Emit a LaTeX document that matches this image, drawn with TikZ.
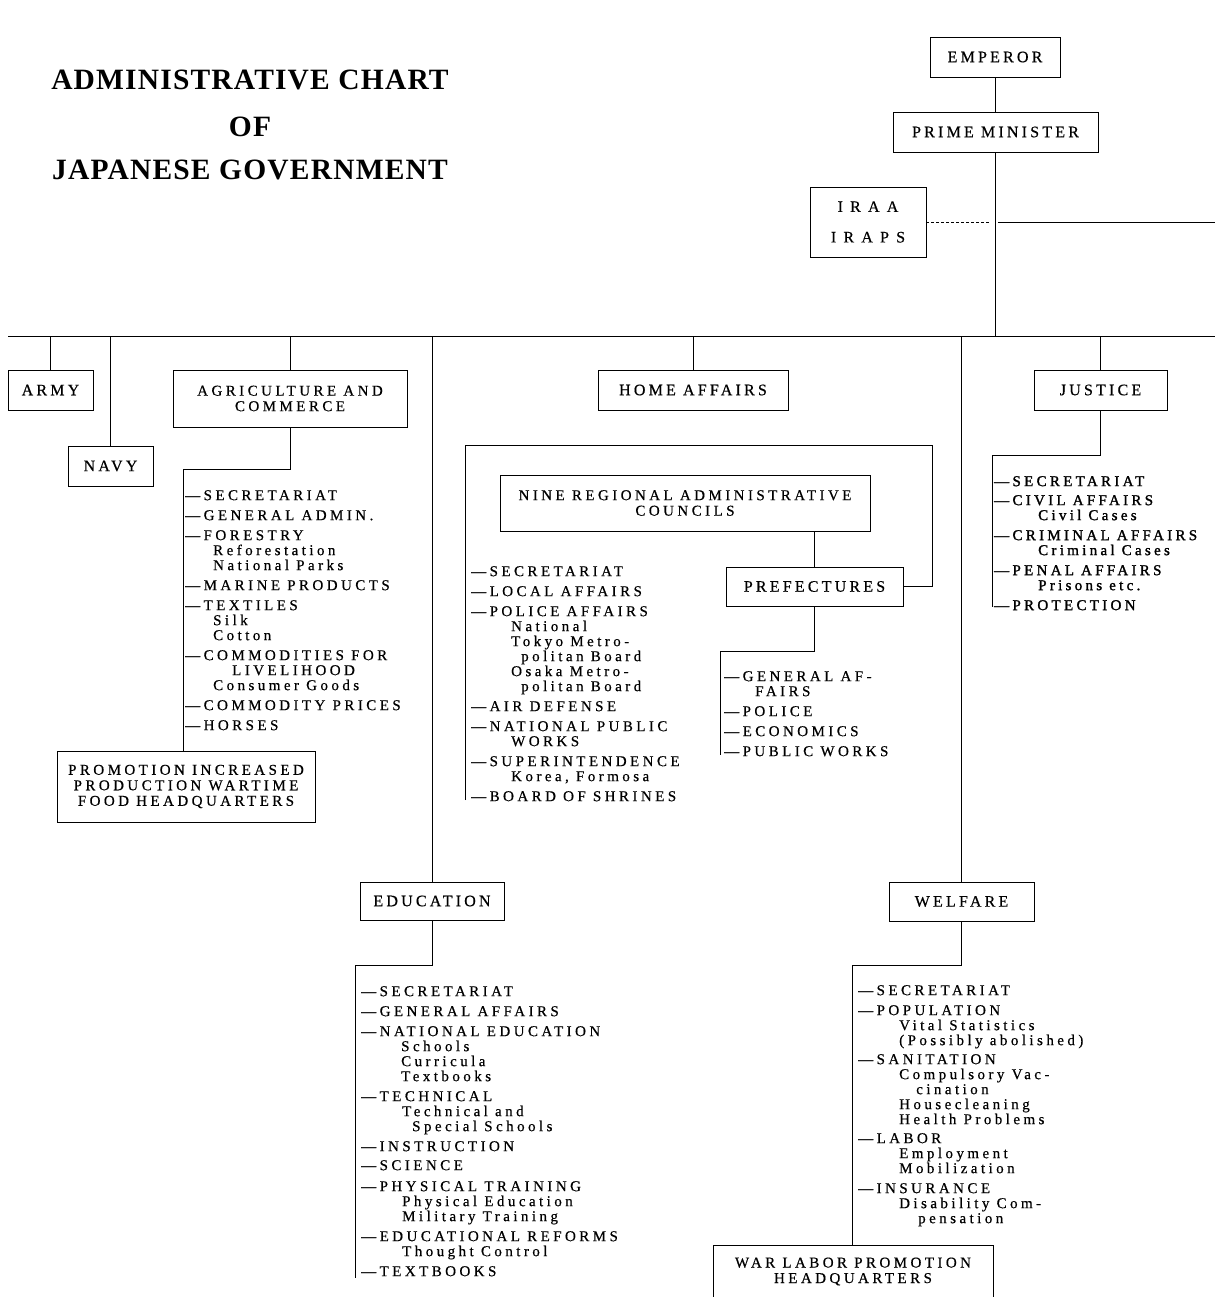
\documentclass[tikz,border=0pt]{standalone}
\usepackage{fontspec}
\setmainfont{Liberation Serif}
\newfontfamily\chartfont{Liberation Serif}[LetterSpace=23, FakeBold=0.5]
\newfontfamily\boxfont{Liberation Serif}[LetterSpace=20, FakeBold=0.5]
\newfontfamily\jusfont{Liberation Serif}[LetterSpace=22, FakeBold=1.5]
\newfontfamily\titlefont{Liberation Serif}[LetterSpace=4]
\newcommand\listfnt{\chartfont\fontsize{15}{15}\selectfont}
\newcommand\jusfnt{\jusfont\fontsize{15}{15}\selectfont}
\newcommand\boxfnt{\boxfont\fontsize{16}{15.5}\selectfont}
\newcommand\boxfntb{\chartfont\fontsize{15}{15.5}\selectfont}
\newcommand\ttlfnt{\titlefont\bfseries\fontsize{29.5}{30}\selectfont}
\newcommand\ind[1]{\hspace*{#1pt}}
\begin{document}
\begin{tikzpicture}[x=1pt,y=-1pt,
  box/.style={draw, line width=0.8pt, inner sep=0pt, align=center, font=\boxfnt},
  boxb/.style={box, font=\boxfntb},
  ln/.style={line width=0.8pt},
  lst/.style={anchor=north west, inner sep=0pt, align=left, font=\listfnt},
  ttl/.style={anchor=base, inner sep=0pt, font=\ttlfnt}]
\useasboundingbox (0,0) rectangle (1215,1297);
\clip (0,0) rectangle (1215,1297);

% title
\node[ttl] (t1) at (250,90) {ADMINISTRATIVE CHART};
\node[ttl] (t2) at (250,137) {OF};
\node[ttl] (t3) at (250,180) {JAPANESE GOVERNMENT};

% top boxes
\node[box, minimum width=130, minimum height=40] (emp) at (995,57) {EMPEROR};
\node[box, minimum width=205, minimum height=40] (pm) at (995.5,132) {PRIME MINISTER};
\node[box, minimum width=116, minimum height=70] (iraa) at (868,222) {I R A A\\[15pt]I R A P S};

% ministries
\node[box, minimum width=85, minimum height=40] (army) at (50.5,390) {ARMY};
\node[box, minimum width=85, minimum height=40] (navy) at (110.5,466) {NAVY};
\node[boxb, minimum width=234, minimum height=57] (agri) at (290,398.5) {AGRICULTURE AND\\COMMERCE};
\node[boxb, minimum width=258, minimum height=71] (promo) at (186,786.5) {PROMOTION INCREASED\\PRODUCTION WARTIME\\FOOD HEADQUARTERS};
\node[box, minimum width=190, minimum height=40] (home) at (693,390) {HOME AFFAIRS};
\node[boxb, minimum width=370, minimum height=56] (nine) at (685,503) {NINE REGIONAL ADMINISTRATIVE\\COUNCILS};
\node[box, minimum width=177, minimum height=39] (pref) at (814.5,586.5) {PREFECTURES};
\node[box, minimum width=133, minimum height=40] (jus) at (1100.5,390) {JUSTICE};
\node[box, minimum width=144, minimum height=38] (edu) at (432,901) {EDUCATION};
\node[box, minimum width=145, minimum height=39] (wel) at (961.5,901.5) {WELFARE};
\node[boxb, minimum width=280, minimum height=53] (war) at (853,1271.5) {WAR LABOR PROMOTION\\HEADQUARTERS};

% coordinates
\coordinate (mainL) at (8,336);
\coordinate (mainR) at (1215,336);
\coordinate (dashE) at (989,222);
\coordinate (iraaS) at (998,222);
\coordinate (iraaR) at (1215,222);
\coordinate (agriC) at (183,469);
\coordinate (hbTL) at (465,445);
\coordinate (hbTR) at (932,445);
\coordinate (hbBL) at (465,800);
\coordinate (prefC) at (720,651);
\coordinate (prefE) at (720,755);
\coordinate (jusC) at (992,455);
\coordinate (jusE) at (992,607);
\coordinate (eduC) at (355,965);
\coordinate (eduE) at (355,1278);
\coordinate (welC) at (852,965);

% connectors
\draw[ln] (emp.south) -- (emp.south |- pm.north);
\draw[ln] (mainL) -- (mainR);
\draw[ln] (pm.south) -- (pm.south |- mainL);
\draw[line width=0.6pt, dash pattern=on 3pt off 2pt] (iraa.east) -- (dashE);
\draw[ln] (iraaS) -- (iraaR);
\draw[ln] (army.north |- mainL) -- (army.north);
\draw[ln] (navy.north |- mainL) -- (navy.north);
\draw[ln] (agri.north |- mainL) -- (agri.north);
\draw[ln] (edu.north |- mainL) -- (edu.north);
\draw[ln] (home.north |- mainL) -- (home.north);
\draw[ln] (wel.north |- mainL) -- (wel.north);
\draw[ln] (jus.north |- mainL) -- (jus.north);

\draw[ln] (agri.south) |- (agriC) -- (agriC |- promo.north);
\draw[ln] (hbBL) -- (hbTL) -- (hbTR) |- (pref.east);
\draw[ln] (nine.south -| pref.north) -- (pref.north);
\draw[ln] (pref.south) |- (prefC) -- (prefE);
\draw[ln] (jus.south) |- (jusC) -- (jusE);
\draw[ln] (edu.south) |- (eduC) -- (eduE);
\draw[ln] (wel.south) |- (welC) -- (welC |- war.north);

% lists
\node[lst] (agril) at (185,490) {%
—SECRETARIAT\\[5pt]
—GENERAL ADMIN.\\[5pt]
—FORESTRY\\
\ind{28}Reforestation\\
\ind{28}National Parks\\[5pt]
—MARINE PRODUCTS\\[5pt]
—TEXTILES\\
\ind{28}Silk\\
\ind{28}Cotton\\[5pt]
—COMMODITIES FOR\\
\ind{47}LIVELIHOOD\\
\ind{28}Consumer Goods\\[5pt]
—COMMODITY PRICES\\[5pt]
—HORSES};

\node[lst] (homel) at (471,566) {%
—SECRETARIAT\\[5pt]
—LOCAL AFFAIRS\\[5pt]
—POLICE AFFAIRS\\
\ind{40}National\\
\ind{40}Tokyo Metro-\\
\ind{50}politan Board\\
\ind{40}Osaka Metro-\\
\ind{50}politan Board\\[5pt]
—AIR DEFENSE\\[5pt]
—NATIONAL PUBLIC\\
\ind{40}WORKS\\[5pt]
—SUPERINTENDENCE\\
\ind{40}Korea, Formosa\\[5pt]
—BOARD OF SHRINES};

\node[lst] (prefl) at (724,671) {%
—GENERAL AF-\\
\ind{31}FAIRS\\[5pt]
—POLICE\\[5pt]
—ECONOMICS\\[5pt]
—PUBLIC WORKS};

\node[lst, font=\jusfnt] (jusl) at (994,476) {%
—SECRETARIAT\\[4pt]
—CIVIL AFFAIRS\\
\ind{44}Civil Cases\\[5pt]
—CRIMINAL AFFAIRS\\
\ind{44}Criminal Cases\\[5pt]
—PENAL AFFAIRS\\
\ind{44}Prisons etc.\\[5pt]
—PROTECTION};

\node[lst] (edul) at (361,986) {%
—SECRETARIAT\\[5pt]
—GENERAL AFFAIRS\\[5pt]
—NATIONAL EDUCATION\\
\ind{40}Schools\\
\ind{40}Curricula\\
\ind{40}Textbooks\\[5pt]
—TECHNICAL\\
\ind{41}Technical and\\
\ind{51}Special Schools\\[5pt]
—INSTRUCTION\\[4pt]
—SCIENCE\\[6pt]
—PHYSICAL TRAINING\\
\ind{41}Physical Education\\
\ind{41}Military Training\\[5pt]
—EDUCATIONAL REFORMS\\
\ind{41}Thought Control\\[5pt]
—TEXTBOOKS};

\node[lst] (well) at (858,985) {%
—SECRETARIAT\\[5pt]
—POPULATION\\
\ind{41}Vital Statistics\\
\ind{41}(Possibly abolished)\\[4pt]
—SANITATION\\
\ind{41}Compulsory Vac-\\
\ind{58}cination\\
\ind{41}Housecleaning\\
\ind{41}Health Problems\\[4pt]
—LABOR\\
\ind{41}Employment\\
\ind{41}Mobilization\\[5pt]
—INSURANCE\\
\ind{41}Disability Com-\\
\ind{60}pensation};
\end{tikzpicture}
\end{document}
